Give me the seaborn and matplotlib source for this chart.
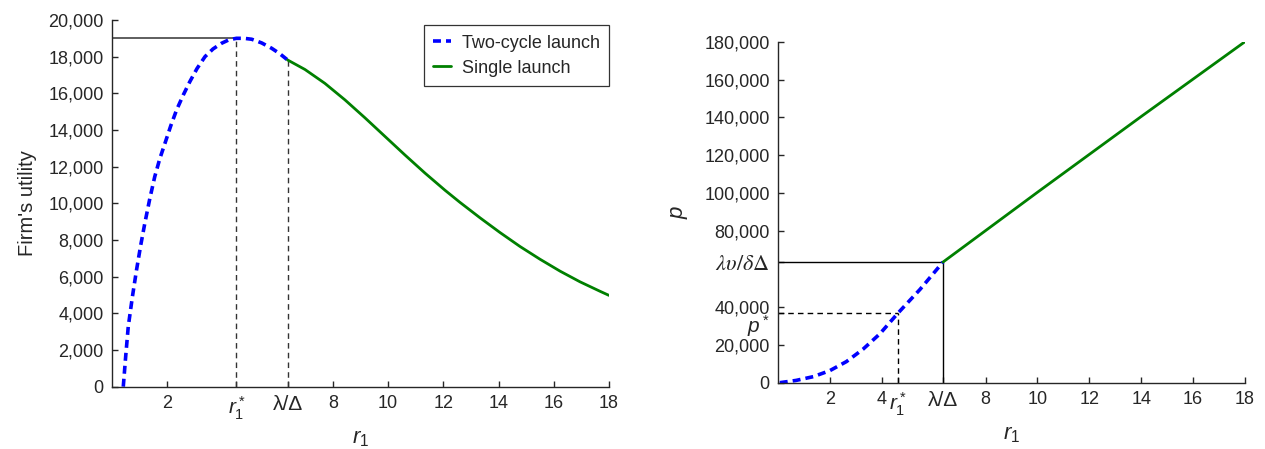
import matplotlib
matplotlib.use('Agg')
import matplotlib.pyplot as plt
import seaborn as sns
import pandas as pd

# left panel: firm's utility vs r1
two_cycle_r = [0.41, 0.50, 0.59, 0.74, 0.89, 1.04, 1.19, 1.37, 1.55, 1.73, 1.92,
               2.13, 2.34, 2.58, 2.82, 3.08, 3.37, 3.66, 3.97, 4.24, 4.51, 4.78,
               5.06, 5.42, 5.78, 6.07, 6.36]
two_cycle_u = [0, 1700, 3270, 4900, 6365, 7700, 8910, 10250, 11455, 12420, 13275,
               14230, 15090, 15900, 16635, 17350, 18000, 18420, 18730, 18920, 19000, 19000,
               18950, 18750, 18460, 18170, 17820]
single_r = [6.36, 6.99, 7.71, 8.44, 9.16, 9.89, 10.61, 11.34, 12.06, 12.60, 13.33,
            14.05, 14.78, 15.50, 16.23, 16.95, 17.68, 18.0]
single_u = [17820, 17300, 16545, 15640, 14668, 13646, 12638, 11645, 10716, 10057, 9210,
            8411, 7644, 6953, 6300, 5720, 5200, 4980]
r_star_left = 4.51
lam_delta = 6.36
u_peak = 19000
u_at_lam = 17820

# right panel: p vs r1
two_cycle_p_r = [0.07, 0.7, 1.36, 2.0, 2.64, 3.28, 3.93, 4.63, 5.47, 6.36]
two_cycle_p = [0, 1200, 3180, 6370, 11140, 17700, 25830, 36800, 49170, 63660]
single_p_r = [6.36, 10, 14, 18]
single_p = [63660, 100500, 140500, 180000]
r_star_right = 4.63
p_star = 36800
p_lam = 63660

sns.set_style('ticks')
plt.rcParams['font.family'] = ['Liberation Sans', 'DejaVu Sans']
plt.rcParams['mathtext.fontset'] = 'custom'
plt.rcParams['mathtext.rm'] = 'Liberation Sans'
plt.rcParams['mathtext.it'] = 'Liberation Sans:italic'
plt.rcParams['xtick.direction'] = 'in'
plt.rcParams['ytick.direction'] = 'in'

blue = '#0000FF'
green = '#008000'
fs = 13

fig = plt.figure(figsize=(12.65, 4.49), dpi=100)
ax1 = fig.add_axes([0.0885, 0.1388, 0.3929, 0.8167])
ax2 = fig.add_axes([0.615, 0.1477, 0.3692, 0.7595])

def style_axes(ax):
    sns.despine(ax=ax)
    for s in ['left', 'bottom']:
        ax.spines[s].set_color('#262626')
        ax.spines[s].set_linewidth(1.0)
    ax.tick_params(length=4, width=1, color='#262626', labelsize=fs, pad=6)

def bump_math_labels(labels):
    for lab in labels:
        t = lab.get_text()
        if 'r_1' in t:
            lab.set_fontsize(15)
        if 'Δ' in t and 'lambda' not in t:
            lab.set_fontsize(15)

# ---- left panel
df1 = pd.DataFrame({'r': two_cycle_r, 'u': two_cycle_u})
df2 = pd.DataFrame({'r': single_r, 'u': single_u})
ax1.plot([0, r_star_left], [u_peak, u_peak], color='#333333', lw=1.1)
ax1.plot([r_star_left, r_star_left], [0, u_peak], color='#333333', lw=1.0, ls='--', dashes=(4, 3))
ax1.plot([lam_delta, lam_delta], [0, u_at_lam], color='#333333', lw=1.0, ls='--', dashes=(4, 3))
sns.lineplot(data=df1, x='r', y='u', ax=ax1, color=blue, lw=2.6, sort=False,
             estimator=None, label='Two-cycle launch')
ax1.lines[-1].set_dashes([2.2, 1.4])
sns.lineplot(data=df2, x='r', y='u', ax=ax1, color=green, lw=2.0, sort=False,
             estimator=None, label='Single launch')
ax1.set_xlim(0, 18)
ax1.set_ylim(0, 20000)
ax1.set_xticks([2, r_star_left, lam_delta, 8, 10, 12, 14, 16, 18])
ax1.set_xticklabels(['2', r'$r_1^*$', 'λ/Δ', '8', '10', '12', '14', '16', '18'])
ax1.set_yticks(range(0, 20001, 2000))
ax1.set_yticklabels([f'{v:,}' for v in range(0, 20001, 2000)])
ax1.set_xlabel(r'$r_1$', fontsize=16, labelpad=4)
ax1.set_ylabel("Firm's utility", fontsize=14.5, labelpad=8)
style_axes(ax1)
bump_math_labels(ax1.get_xticklabels())
leg = ax1.legend(loc='upper right', bbox_to_anchor=(1.0, 0.985), fontsize=13,
                 handlelength=1.0, handletextpad=0.6, frameon=True, fancybox=False,
                 edgecolor='black', borderaxespad=0.0, borderpad=0.5, labelspacing=0.45)
leg.get_frame().set_linewidth(0.9)

# ---- right panel
df3 = pd.DataFrame({'r': two_cycle_p_r, 'p': two_cycle_p})
df4 = pd.DataFrame({'r': single_p_r, 'p': single_p})
ax2.plot([0, lam_delta], [p_lam, p_lam], color='black', lw=1.0)
ax2.plot([lam_delta, lam_delta], [0, p_lam], color='black', lw=1.0)
ax2.plot([0, r_star_right], [p_star, p_star], color='black', lw=1.0, ls='--', dashes=(4, 3))
ax2.plot([r_star_right, r_star_right], [0, p_star], color='black', lw=1.0, ls='--', dashes=(4, 3))
sns.lineplot(data=df3, x='r', y='p', ax=ax2, color=blue, lw=2.6, sort=False,
             estimator=None, legend=False)
ax2.lines[-1].set_dashes([2.2, 1.4])
sns.lineplot(data=df4, x='r', y='p', ax=ax2, color=green, lw=2.0, sort=False,
             estimator=None, legend=False)
ax2.set_xlim(0, 18)
ax2.set_ylim(0, 180000)
ax2.set_xticks([2, 4, r_star_right, lam_delta, 8, 10, 12, 14, 16, 18])
ax2.set_xticklabels(['2', '4', r'$r_1^*$', 'λ/Δ', '8', '10', '12', '14', '16', '18'])
yt = [0, 20000, 40000, p_star, p_lam, 80000, 100000, 120000, 140000, 160000, 180000]
ytl = ['0', '20,000', '40,000', r'$p^*$', r'$\lambda\upsilon/\delta\Delta$',
       '80,000', '100,000', '120,000', '140,000', '160,000', '180,000']
ax2.set_yticks(yt)
ax2.set_yticklabels(ytl)
ax2.set_xlabel(r'$r_1$', fontsize=16, labelpad=4)
ax2.set_ylabel(r'$p$', fontsize=16, labelpad=10)
style_axes(ax2)
bump_math_labels(ax2.get_xticklabels())
for lab in ax2.get_yticklabels():
    if 'lambda' in lab.get_text():
        lab.set_math_fontfamily('stix')
        lab.set_fontsize(16)
    if 'p^' in lab.get_text():
        lab.set_fontsize(15)
        lab.set_verticalalignment('top')

fig.savefig('out.png', dpi=100)
